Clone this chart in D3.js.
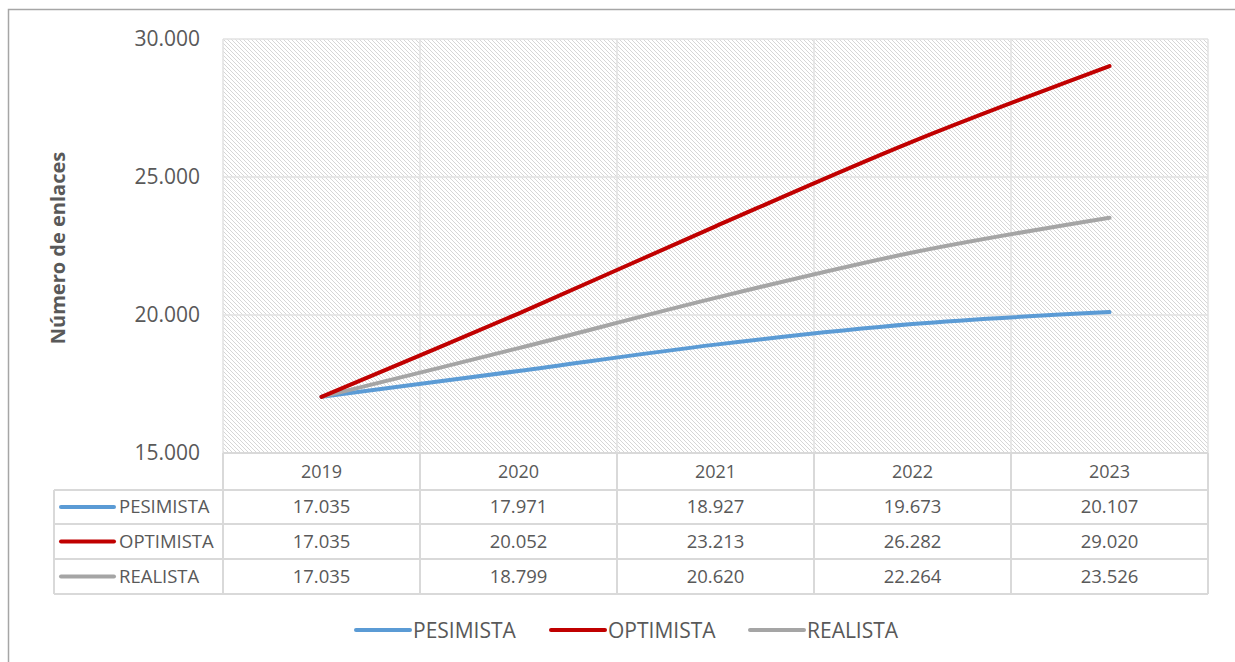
<!DOCTYPE html>
<html>
<head>
<meta charset="utf-8">
<script src="https://cdn.jsdelivr.net/npm/d3@7"></script>
<style>
	body{margin:0;background:#fff;}
	text{font-family:"Open Sans","Liberation Sans",sans-serif;fill:#595959;}
</style>
</head>
<body>
<svg id="chart" width="1235" height="662"></svg>
<script>
const years = ["2019", "2020", "2021", "2022", "2023"];
const seriesNames = ["PESIMISTA", "OPTIMISTA", "REALISTA"];
const pesimista = [17035, 17971, 18927, 19673, 20107];
const optimista = [17035, 20052, 23213, 26282, 29020];
const realista = [17035, 18799, 20620, 22264, 23526];
const yTicks = [15000, 20000, 25000, 30000];
const colors = ["#5b9bd5", "#c00000", "#a5a5a5"];

let svg = d3.select("#chart"),
	plotLeft = 223, plotRight = 1208, plotTop = 39, plotBottom = 453,
	rowH = [37, 34, 35, 35],
	tableLeft = 54,
	fmt = d3.formatLocale({decimal: ",", thousands: ".", grouping: [3]}).format(",d");

let series = [pesimista, optimista, realista].map(function(v, i){
	return {name: seriesNames[i], values: v, color: colors[i]};
});

let x = d3.scaleBand().domain(years).range([plotLeft, plotRight]),
	y = d3.scaleLinear().domain([15000, 30000]).range([plotBottom, plotTop]);

// outer frame
svg.append("rect")
	.attr("x", 8.5).attr("y", 9.5)
	.attr("width", 1240).attr("height", 700)
	.attr("fill", "none").attr("stroke", "#a6a6a6").attr("stroke-width", 1.5);

// hatch pattern (down-right diagonals)
let defs = svg.append("defs");
let pat = defs.append("pattern")
	.attr("id", "hatch")
	.attr("patternUnits", "userSpaceOnUse")
	.attr("width", 4).attr("height", 4);
pat.append("rect").attr("width", 4).attr("height", 4).attr("fill", "#fff");
pat.append("path")
	.attr("d", "M-1,3 l2,2 M0,0 l4,4 M3,-1 l2,2")
	.attr("stroke", "#d6d6d6").attr("stroke-width", 1);

svg.append("rect")
	.attr("x", plotLeft).attr("y", plotTop)
	.attr("width", plotRight - plotLeft).attr("height", plotBottom - plotTop)
	.attr("fill", "url(#hatch)");

// gridlines
svg.append("g")
	.selectAll("line")
	.data(yTicks.slice(1))
	.enter().append("line")
	.attr("x1", plotLeft).attr("x2", plotRight)
	.attr("y1", function(d){ return y(d); })
	.attr("y2", function(d){ return y(d); })
	.attr("stroke", "#e2e2e2").attr("stroke-width", 1.5);

svg.append("g")
	.selectAll("line")
	.data(years.concat(["end"]))
	.enter().append("line")
	.attr("x1", function(d, i){ return plotLeft + i * x.bandwidth(); })
	.attr("x2", function(d, i){ return plotLeft + i * x.bandwidth(); })
	.attr("y1", plotTop).attr("y2", plotBottom)
	.attr("stroke", "#e2e2e2").attr("stroke-width", 1.5);

// y axis labels
svg.append("g")
	.selectAll("text")
	.data(yTicks)
	.enter().append("text")
	.attr("x", 200)
	.attr("y", function(d){ return y(d) + 7; })
	.attr("text-anchor", "end")
	.attr("font-size", 21)
	.text(function(d){ return fmt(d); });

svg.append("text")
	.attr("transform", "translate(65," + ((plotTop + plotBottom) / 2 + 2) + ") rotate(-90)")
	.attr("text-anchor", "middle")
	.attr("font-size", 20)
	.attr("font-weight", "bold")
	.text("Número de enlaces");

// lines
let line = d3.line()
	.x(function(d, i){ return x(years[i]) + x.bandwidth() / 2; })
	.y(function(d){ return y(d); })
	.curve(d3.curveCatmullRom.alpha(0.5));

svg.append("g")
	.selectAll("path")
	.data([series[0], series[2], series[1]])
	.enter().append("path")
	.attr("d", function(d){ return line(d.values); })
	.attr("fill", "none")
	.attr("stroke", function(d){ return d.color; })
	.attr("stroke-width", 4)
	.attr("stroke-linecap", "round");

// data table
let rowY = [plotBottom];
rowH.forEach(function(h){ rowY.push(rowY[rowY.length - 1] + h); });
let table = svg.append("g");
let gridColor = "#d9d9d9";

// horizontal lines of table
table.append("line")
	.attr("x1", plotLeft).attr("x2", plotRight).attr("y1", rowY[0]).attr("y2", rowY[0])
	.attr("stroke", gridColor).attr("stroke-width", 2);
rowY.slice(1).forEach(function(yy){
	table.append("line")
		.attr("x1", tableLeft).attr("x2", plotRight).attr("y1", yy).attr("y2", yy)
		.attr("stroke", gridColor).attr("stroke-width", 2);
});
// vertical lines
table.append("line")
	.attr("x1", tableLeft).attr("x2", tableLeft).attr("y1", rowY[1]).attr("y2", rowY[4])
	.attr("stroke", gridColor).attr("stroke-width", 2);
years.concat(["end"]).forEach(function(d, i){
	let xx = plotLeft + i * x.bandwidth();
	table.append("line")
		.attr("x1", xx).attr("x2", xx).attr("y1", rowY[0]).attr("y2", rowY[4])
		.attr("stroke", gridColor).attr("stroke-width", 2);
});

table.selectAll("text.year")
	.data(years)
	.enter().append("text")
	.attr("class", "year")
	.attr("x", function(d){ return x(d) + x.bandwidth() / 2; })
	.attr("y", (rowY[0] + rowY[1]) / 2 + 6)
	.attr("text-anchor", "middle")
	.attr("font-size", 18)
	.text(function(d){ return d; });

series.forEach(function(s, si){
	let cy = (rowY[si + 1] + rowY[si + 2]) / 2;
	table.append("line")
		.attr("x1", 61).attr("x2", 114).attr("y1", cy).attr("y2", cy)
		.attr("stroke", s.color).attr("stroke-width", 4).attr("stroke-linecap", "round");
	table.append("text")
		.attr("x", 119).attr("y", cy + 6)
		.attr("font-size", 18.5)
		.text(s.name);
	table.selectAll("text.v" + si)
		.data(s.values)
		.enter().append("text")
		.attr("class", "v" + si)
		.attr("x", function(d, i){ return x(years[i]) + x.bandwidth() / 2; })
		.attr("y", cy + 6)
		.attr("text-anchor", "middle")
		.attr("font-size", 18.5)
		.text(function(d){ return fmt(d); });
});

// legend
let legendX = [356, 551, 750];
let legend = svg.append("g")
	.selectAll("g")
	.data(series)
	.enter().append("g")
	.attr("transform", function(d, i){ return "translate(" + legendX[i] + ",630)"; });
legend.append("line")
	.attr("x1", 0).attr("x2", 54)
	.attr("stroke", function(d){ return d.color; })
	.attr("stroke-width", 4).attr("stroke-linecap", "round");
legend.append("text")
	.attr("x", 57).attr("y", 8)
	.attr("font-size", 21)
	.text(function(d){ return d.name; });
</script>
</body>
</html>
